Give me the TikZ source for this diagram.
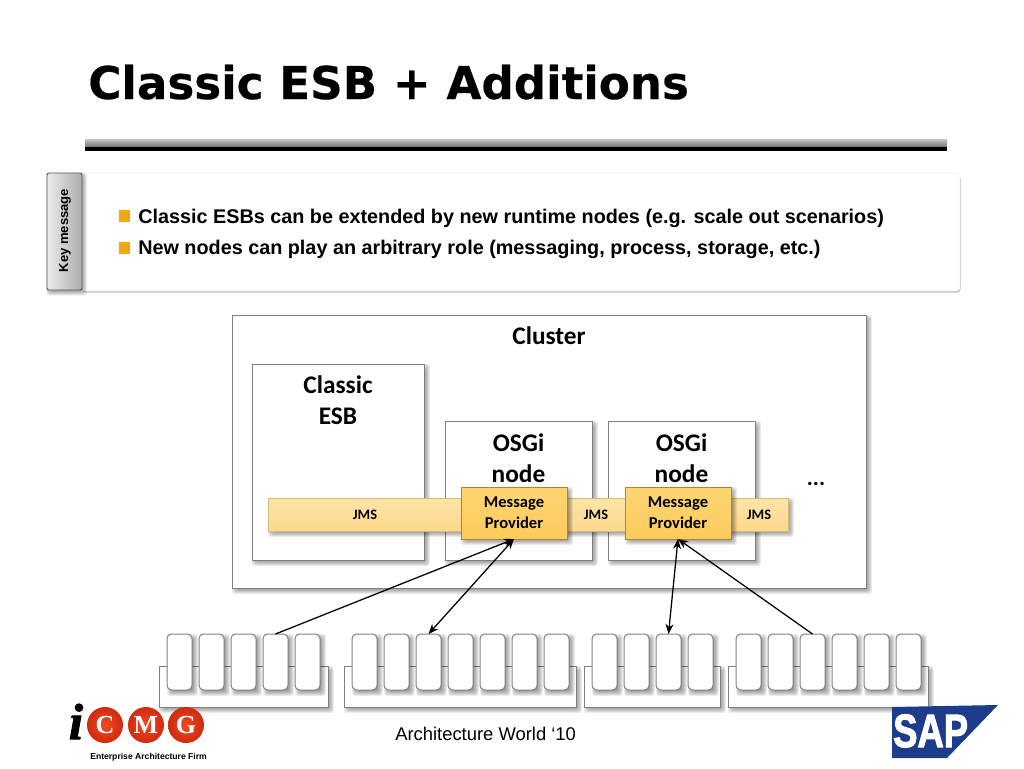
\documentclass[tikz,border=0pt]{standalone}
\usepackage{fontspec}
\setmainfont{Liberation Sans}
\newfontfamily\carl{Carlito}
\newfontfamily\djv[FakeBold=0.4]{DejaVu Sans}
\newfontfamily\lser{Liberation Serif}
\newfontfamily\lserfb[FakeBold=2]{Liberation Serif}
\newfontfamily\sapfont[FakeBold=2.5]{Liberation Sans}
\usetikzlibrary{arrows.meta}
\definecolor{barT}{HTML}{FEE4A8}
\definecolor{barB}{HTML}{FBD98C}
\definecolor{barE}{HTML}{D8BB78}
\definecolor{mpT}{HTML}{FED672}
\definecolor{mpB}{HTML}{FCCB5C}
\definecolor{mpE}{HTML}{A98734}
\definecolor{edge}{HTML}{808080}
\definecolor{bul}{HTML}{F0A80F}
\definecolor{sapblue}{HTML}{1E3C8C}
\definecolor{ballin}{HTML}{F04A20}
\definecolor{ballout}{HTML}{D02A10}
% soft shadow behind a box: centre x, centre y, width, height (px)
\newcommand{\softshadow}[4]{%
  \foreach \s in {-3,-2,-1,0,1,2,3}{%
    \fill[black,opacity=.075,rounded corners=2pt]
      ({#1-#3/2+3-\s},{#2-#4/2+3-\s}) rectangle ({#1+#3/2+3+\s},{#2+#4/2+3+\s});}}
\tikzset{
  sbox/.style 2 args={draw=edge,line width=.75pt,fill=white,inner sep=0pt,outer sep=0pt,
    minimum width=#1*.75pt,minimum height=#2*.75pt},
  pill/.style={sbox={25}{56},rounded corners=3.5pt},
  tray/.style={sbox={#1}{41}},
  lab/.style={font=\carl\bfseries\fontsize{19}{23.5}\selectfont,align=center,inner sep=0pt,text=black},
  small/.style={font=\carl\bfseries\fontsize{10.8}{15.5}\selectfont,align=center,inner sep=0pt,text=black},
  barbox/.style 2 args={draw=barE,line width=.5pt,top color=barT,bottom color=barB,inner sep=0pt,outer sep=0pt,
    minimum width=#1*.75pt,minimum height=#2*.75pt},
  mpbox/.style={draw=mpE,line width=.6pt,top color=mpT,bottom color=mpB,inner sep=0pt,outer sep=0pt,
    minimum width=106*.75pt,minimum height=52*.75pt,font=\carl\bfseries\fontsize{12.4}{15.5}\selectfont,align=center},
  bullettxt/.style={anchor=base west,inner sep=0pt,font=\bfseries\fontsize{14.85}{16}\selectfont},
  bulletsq/.style={fill=bul,inner sep=0pt,minimum size=8.5pt},
  link/.style={line width=.95pt,draw=black,{Stealth[length=7.5pt,width=6pt]}-{Stealth[length=7.5pt,width=6pt]}},
  linkone/.style={line width=.95pt,draw=black,-{Stealth[length=7.5pt,width=6pt]}},
  sphere/.style={circle,minimum size=27pt,inner sep=0pt,shading=radial,inner color=ballin,outer color=ballout,text=white,
    font=\lser\bfseries\fontsize{19.5}{19.5}\selectfont},
}
\begin{document}
\begin{tikzpicture}[x=.75pt,y=-.75pt]
\useasboundingbox (0,0) rectangle (1024,768);
\fill[white] (0,0) rectangle (1024,768);
% title
\node[anchor=base west,inner sep=0pt,font=\djv\bfseries\fontsize{33.9}{40}\selectfont] (title) at (88,99) {Classic ESB + Additions};
\shade[top color=black!22,bottom color=black!55] (85,139) rectangle (947,147);
\fill[black] (85,147) rectangle (947,151);
% key message
\fill[black,opacity=.12,rounded corners=3pt] (82,175) rectangle (961,293);
\fill[black,opacity=.2,rounded corners=3pt] (82,175) rectangle (960.5,292);
\node[draw=black!6,line width=.4pt,fill=white,rounded corners=3pt,inner sep=0pt,minimum width=880*.75pt,minimum height=118*.75pt] (panel) at (520,232) {};
\softshadow{63.5}{231}{35}{117}
\node[draw=black!65,line width=.7pt,left color=black!8,right color=black!32,rounded corners=1.5pt,inner sep=0pt,
  minimum width=35*.75pt,minimum height=117*.75pt] (tab) at (64.5,231.5) {};
\node[rotate=90,inner sep=0pt,font=\bfseries\fontsize{9.8}{11}\selectfont] (keymsg) at (65,230.5) {Key message};
\node[bulletsq] (b1) at (124.5,216) {};
\node[bulletsq] (b2) at (124.5,248) {};
\node[bullettxt] (t1) at (138,223) {Classic ESBs can be extended by new runtime nodes (e.g. scale out scenarios)};
\node[bullettxt] (t2) at (138,254) {New nodes can play an arbitrary role (messaging, process, storage, etc.)};
% cluster
\softshadow{549}{451.5}{634}{273}
\node[sbox={634}{273}] (cluster) at (549,451.5) {};
\node[lab] (clusterl) at (549,336) {Cluster};
\softshadow{338}{462}{172}{196}
\node[sbox={172}{196}] (esb) at (338,462) {};
\node[lab] (esbl) at (338,400.5) {Classic\\ESB};
\softshadow{518.5}{490.5}{147}{139}
\node[sbox={147}{139}] (osgi1) at (518.5,490.5) {};
\node[lab] (osgi1l) at (518.5,458) {OSGi\\node};
\softshadow{681.5}{490.5}{147}{139}
\node[sbox={147}{139}] (osgi2) at (681.5,490.5) {};
\node[lab] (osgi2l) at (681.5,458) {OSGi\\node};
\node[lab,font=\carl\bfseries\fontsize{17}{20}\selectfont] (dots) at (816,484) {...};
\softshadow{528}{514.5}{520}{33}
\node[barbox={520}{33}] (bar) at (528,514.5) {};
\node[small] (jms1) at (365,514.5) {JMS};
\node[small] (jms2) at (596,514.5) {JMS};
\node[small] (jms3) at (759,514.5) {JMS};
\softshadow{514}{513}{106}{52}
\node[mpbox] (mp1) at (514,513) {Message\\Provider};
\softshadow{678}{513}{106}{52}
\node[mpbox] (mp2) at (678,513) {Message\\Provider};
% queues
\softshadow{243.5}{686.5}{169}{41}
\node[tray={169}] (tr1) at (243.5,686.5) {};
\softshadow{460}{686.5}{232}{41}
\node[tray={232}] (tr2) at (460,686.5) {};
\softshadow{652}{686.5}{136}{41}
\node[tray={136}] (tr3) at (652,686.5) {};
\softshadow{828}{686.5}{200}{41}
\node[tray={200}] (tr4) at (828,686.5) {};
\foreach \n/\x in {a/179.5,b/211.5,c/243.5,d/275.5,e/307.5}
  {\softshadow{\x}{662}{25}{56}\node[pill] (qa\n) at (\x,662) {};}
\foreach \n/\x in {a/364.5,b/396.5,c/428.5,d/460.5,e/492.5,f/524.5,g/556.5}
  {\softshadow{\x}{662}{25}{56}\node[pill] (qb\n) at (\x,662) {};}
\foreach \n/\x in {a/604.5,b/636.5,c/668.5,d/700.5}
  {\softshadow{\x}{662}{25}{56}\node[pill] (qc\n) at (\x,662) {};}
\foreach \n/\x in {a/748.5,b/780.5,c/812.5,d/844.5,e/876.5,f/908.5}
  {\softshadow{\x}{662}{25}{56}\node[pill] (qd\n) at (\x,662) {};}
% connectors
\draw[linkone] (qad.north) -- (mp1.south);
\draw[link] (qbc.north) -- (mp1.south);
\draw[link] (qcc.north) -- (mp2.south);
\draw[linkone] (qdc.north) -- (mp2.south);
% footer
\node[anchor=base west,inner sep=0pt,font=\fontsize{13.8}{15}\selectfont] (foot) at (395,740) {Architecture World ‘10};
% icmg
\node[anchor=base,inner sep=0pt,font=\lserfb\bfseries\itshape\fontsize{38}{38}\selectfont] (logoi) at (76,739) {i};
\node[sphere] (lc) at (105,725) {C};
\node[sphere] (lm) at (146,725) {M};
\node[sphere] (lg) at (186,725) {G};
\node[anchor=base west,inner sep=0pt,font=\bfseries\fontsize{6.45}{7}\selectfont] (firm) at (90,759) {Enterprise Architecture Firm};
% sap
\fill[sapblue] (892,707) -- (998,705) -- (947,758) -- (892,758) -- cycle;
\node[anchor=base west,inner sep=0pt,text=white,xscale=.78,font=\sapfont\bfseries\fontsize{35}{35}\selectfont] (sap) at (893,747) {SAP};
\end{tikzpicture}
\end{document}
